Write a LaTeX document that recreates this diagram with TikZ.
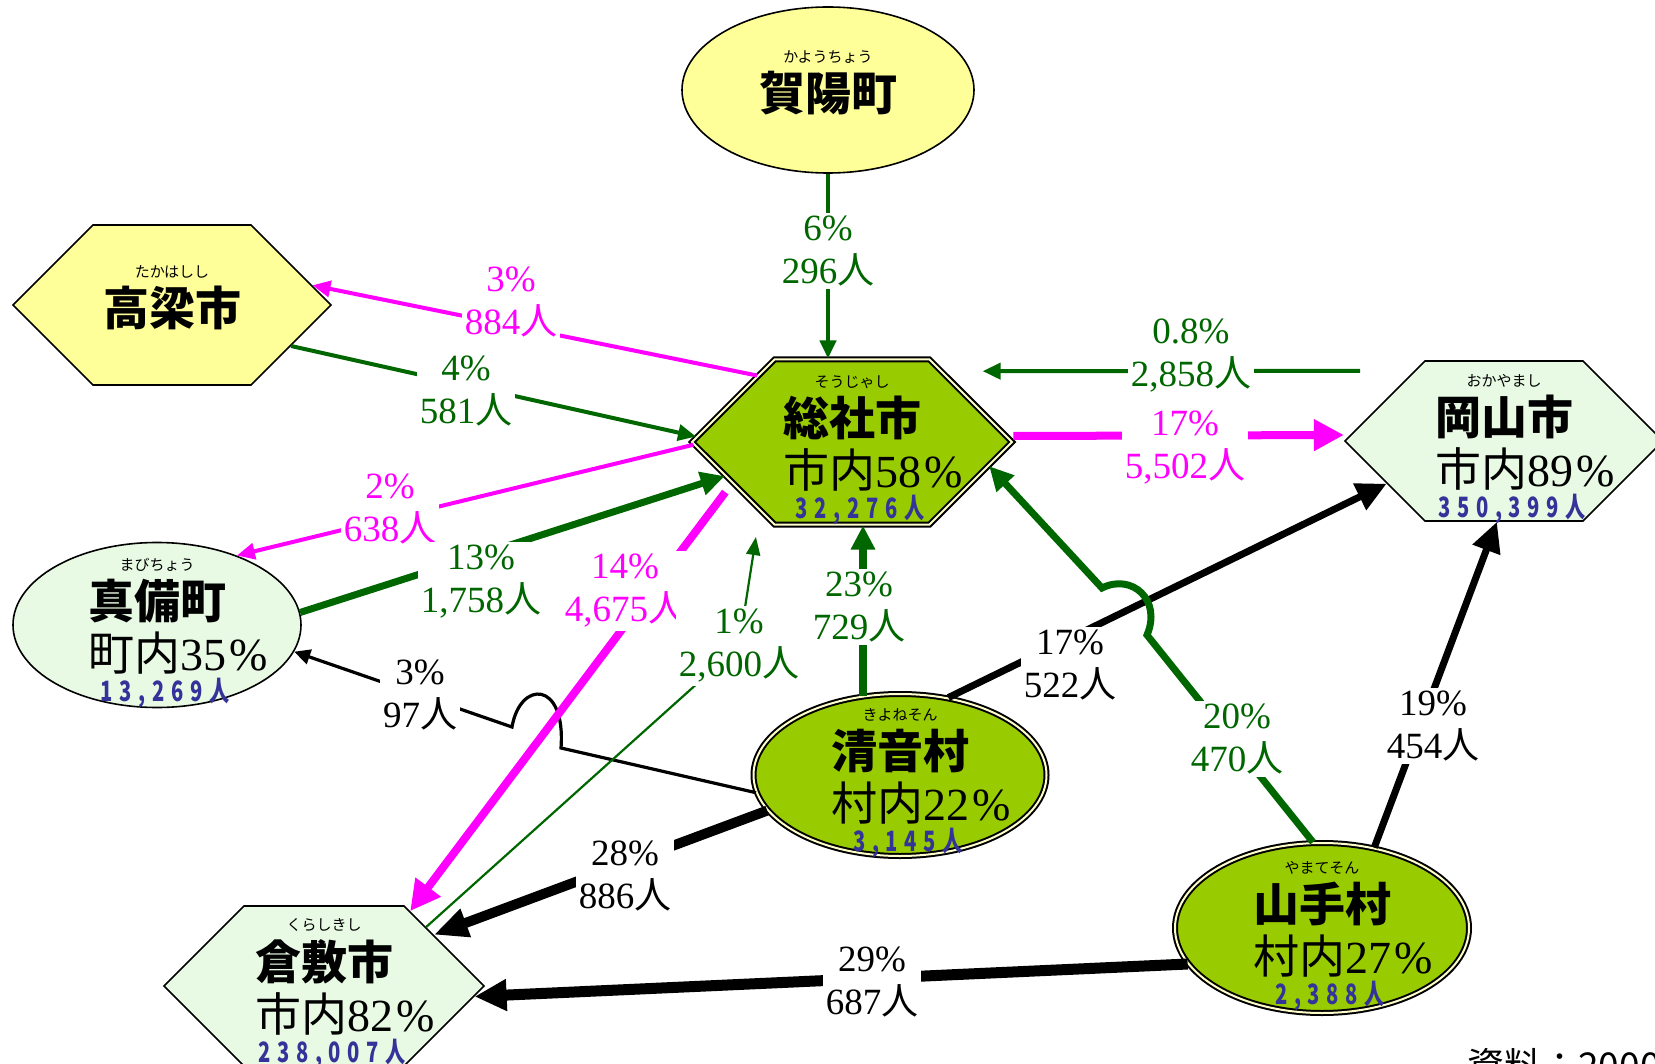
\documentclass[tikz,border=0pt]{standalone}
\usepackage{fontspec}
\setmainfont{Liberation Serif}
\newfontfamily\jp{Noto Sans CJK JP}
\newfontfamily\cnt{Noto Sans CJK JP}[FakeStretch=0.72,LetterSpace=24]
\usetikzlibrary{arrows.meta}
\usetikzlibrary{positioning}
\usetikzlibrary{shapes.geometric}
\usetikzlibrary{shapes.symbols}
\definecolor{dkgreen}{RGB}{0,102,0}
\definecolor{fuchsia}{RGB}{255,0,255}
\definecolor{lemon}{RGB}{255,255,153}
\definecolor{mint}{RGB}{232,250,228}
\definecolor{leaf}{RGB}{153,204,0}
\definecolor{cream}{RGB}{255,255,204}
\definecolor{cntblue}{RGB}{51,51,153}
\newcommand\hito{{\jp 人}}
\newcommand\town[4]{%
  \node[nm, anchor=base] (#1-n) at ([yshift=#2]#1.center) {#4};
  \node[rb, above=3.5pt of #1-n] (#1-r) {#3};}
\newcommand\stat[4]{%
  \node[pc, anchor=base west] (#1-p) at ([yshift=-25.75pt]#1-n.base west) {{\jp #2}#3\kern2pt\%};
  \node[ct, anchor=base] (#1-c) at ([xshift=-6.5pt,yshift=-15.5pt]#1-p.base) {#4人};}

\begin{document}
\begin{tikzpicture}[x=0.5pt, y=-0.5pt,
    hexa/.style={shape=signal, signal to=west and east, signal pointer angle=90, draw=black, line width=0.8pt, inner sep=0pt, minimum width=159pt, minimum height=80pt},
    oval/.style={ellipse, draw=black, line width=0.8pt, inner sep=0pt},
    dbl/.style={draw=black, line width=1pt, double=cream, double distance=1pt},
    lbl/.style={fill=white, inner sep=1.5pt, align=center, font=\fontsize{18.5pt}{21.5pt}\selectfont},
    nm/.style={inner sep=0pt, font=\fontsize{23pt}{26pt}\selectfont\jp\bfseries},
    rb/.style={inner sep=0pt, font=\fontsize{7.5pt}{9pt}\selectfont\jp},
    pc/.style={inner sep=0pt, font=\fontsize{23pt}{25pt}\selectfont},
    ct/.style={inner sep=0pt, text=cntblue, font=\fontsize{14pt}{16pt}\selectfont\cnt\bfseries},
    gthin/.style={draw=dkgreen, line width=2pt, -{Triangle[length=9pt,width=8pt]}},
    gthick/.style={draw=dkgreen, line width=3.5pt, -{Triangle[length=12pt,width=11.5pt]}},
    mthin/.style={draw=fuchsia, line width=2pt, -{Triangle[length=9pt,width=8pt]}},
    mthick/.style={draw=fuchsia, line width=4pt, -{Triangle[length=15pt,width=15pt]}},
    kthin/.style={draw=black, line width=1.6pt, -{Triangle[length=8pt,width=7.5pt]}},
    kthick/.style={draw=black, line width=3.5pt, -{Triangle[length=15pt,width=14pt]}}]
  \useasboundingbox (0,0) rectangle (1655,1064);

  \node[oval, fill=lemon, minimum width=146pt, minimum height=83pt] (kayo) at (828,90) {};
  \node[hexa, fill=lemon] (taka) at (172,305) {};
  \node[hexa, dbl, fill=leaf, minimum width=160pt, minimum height=82.5pt] (soja) at (852,442) {};
  \node[hexa, fill=mint] (okay) at (1504,441) {};
  \node[oval, fill=mint, minimum width=144pt, minimum height=82.5pt] (mabi) at (157,625) {};
  \node[oval, dbl, fill=leaf, minimum width=146.5pt, minimum height=81pt] (kiyo) at (900,775) {};
  \node[oval, dbl, fill=leaf, minimum width=147pt, minimum height=85pt] (yama) at (1322,928) {};
  \node[hexa, fill=mint, minimum width=160pt] (kura) at (324,986) {};

  \coordinate (hopk1) at (561,748);
  \coordinate (hopk2) at (512,727);
  \coordinate (hopg1) at (1147,635);
  \coordinate (hopg2) at (1102,588);
  \coordinate (bend) at (739,646);

  \draw[gthin] (kayo.south) -- (kayo.south |- soja.north);
  \draw[mthin] (soja.145) -- (taka.8);
  \draw[gthin] (taka.-19) -- (soja.178);
  \draw[mthin] (soja.181) -- (mabi.41);
  \draw[gthick] (mabi.5) -- (soja.195);
  \draw[gthin, shorten <=27pt, shorten >=20pt] (okay.142) -- (soja.38);
  \draw[mthick] ([yshift=3pt]soja.east) -- ([yshift=3pt]okay.west);
  \draw[gthick, line width=4pt] (kiyo.115) -- (kiyo.115 |- soja.south);
  \draw[kthick] (kiyo.58) -- (okay.200);
  \draw[gthick] (yama.96) -- (hopg1) .. controls (1162,600) and (1132,573) .. (hopg2) -- (soja.-10);
  \draw[kthick] (yama.57) -- (okay.265);
  \draw[kthin] (kiyo.187) -- (hopk1) .. controls (566,680) and (520,680) .. (hopk2) -- (mabi.349);
  \draw[draw=dkgreen, line width=1.1pt, -{Triangle[length=9pt,width=7pt]}, shorten >=13pt] (kura.30) -- (bend) -- (soja.217);
  \draw[mthick, shorten <=5.5pt] (soja.199) -- (kura.41);
  \draw[kthick, line width=5pt, -{Triangle[length=17pt,width=14pt]}] (kiyo.195) -- (kura.25);
  \draw[kthick, line width=5.5pt, -{Triangle[length=16pt,width=15pt]}] (yama.195) -- (kura.-4);

  \node[lbl, text=dkgreen] (l-kayo) at (828,251) {6\%\\296\hito};
  \node[lbl, text=fuchsia] (l-taka1) at (511,302) {3\%\\884\hito};
  \node[lbl, text=dkgreen] (l-taka2) at (466,391) {4\%\\581\hito};
  \node[lbl, text=fuchsia] (l-mabi1) at (390,509) {2\%\\638\hito};
  \node[lbl, text=dkgreen] (l-mabi2) at (481,582) {13\%\\1,758\hito};
  \node[lbl, text=fuchsia] (l-kura1) at (625,591) {14\%\\4,675\hito};
  \node[lbl, text=dkgreen] (l-kura2) at (bend) {1\%\\2,600\hito};
  \node[lbl, text=dkgreen] (l-kiyo1) at (859,607) {23\%\\729\hito};
  \node[lbl, text=fuchsia] (l-okay1) at (1185,448) {17\%\\5,502\hito};
  \node[lbl, text=dkgreen] (l-okay2) at (1191,356) {0.8\%\\2,858\hito};
  \node[lbl] (l-kiyo2) at (1070,665) {17\%\\522\hito};
  \node[lbl, text=dkgreen] (l-yama1) at (1237,739) {20\%\\470\hito};
  \node[lbl] (l-yama2) at (1433,726) {19\%\\454\hito};
  \node[lbl] (l-kiyo3) at (625,876) {28\%\\886\hito};
  \node[lbl] (l-yama3) at (872,982) {29\%\\687\hito};
  \node[lbl] (l-kiyo4) at (420,695) {3\%\\97\hito};

  \town{kayo}{-10.5pt}{かようちょう}{賀陽町}
  \town{taka}{-10.5pt}{たかはしし}{高梁市}
  \town{soja}{3.25pt}{そうじゃし}{総社市}
  \stat{soja}{市内}{58}{32,276}
  \town{okay}{3.25pt}{おかやまし}{岡山市}
  \stat{okay}{市内}{89}{350,399}
  \town{mabi}{3.25pt}{まびちょう}{真備町}
  \stat{mabi}{町内}{35}{13,269}
  \town{kiyo}{3.25pt}{きよねそん}{清音村}
  \stat{kiyo}{村内}{22}{3,145}
  \town{yama}{3.25pt}{やまてそん}{山手村}
  \stat{yama}{村内}{27}{2,388}
  \town{kura}{3.25pt}{くらしきし}{倉敷市}
  \stat{kura}{市内}{82}{238,007}

  \node[anchor=base west, inner sep=0pt, font=\fontsize{18.5pt}{20pt}\selectfont\jp] (src) at (1467,1079) {資料：2000};
\end{tikzpicture}
\end{document}
